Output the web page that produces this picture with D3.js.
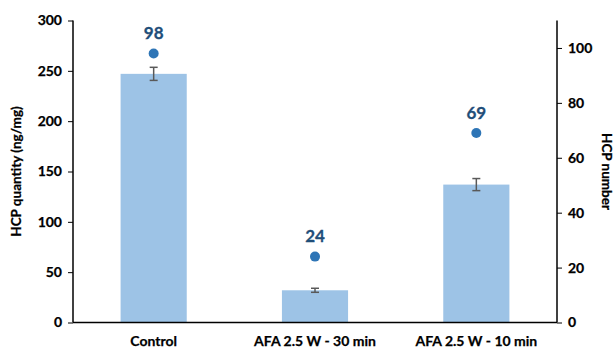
<!DOCTYPE html>
<html><head><meta charset="utf-8">
<script src="https://cdn.jsdelivr.net/npm/d3@7"></script>
<style>body{margin:0;background:#fff}svg{display:block}</style>
</head><body>
<script>
const categories = ["Control", "AFA 2.5 W - 30 min", "AFA 2.5 W - 10 min"];
const quantity = [247, 32, 137];
const quantityErr = [6.5, 2, 6];
const hcpNumber = [98, 24, 69];
const leftTicks = [0, 50, 100, 150, 200, 250, 300];
const rightTicks = [0, 20, 40, 60, 80, 100];

const W = 614, H = 352;
const m = {l: 73, r: 57, t: 20.5, b: 29.5};
const svg = d3.select("body").append("svg").attr("width", W).attr("height", H);
const font = "Lato, 'Open Sans', sans-serif";

const x = d3.scaleBand().domain(categories).range([m.l, W - m.r]).paddingInner(0.59).paddingOuter(0.295);
const y = d3.scaleLinear().domain([0, 300]).range([H - m.b, m.t]);
const y2 = d3.scaleLinear().domain([0, 110]).range([H - m.b, m.t]);

// bars
svg.selectAll("rect.bar").data(categories).join("rect")
  .attr("x", d => x(d)).attr("width", x.bandwidth())
  .attr("y", (d, i) => y(quantity[i])).attr("height", (d, i) => y(0) - y(quantity[i]))
  .attr("fill", "#9DC3E6");

// error bars
const eg = svg.append("g").attr("stroke", "#595959").attr("stroke-width", 1.5);
categories.forEach((c, i) => {
  const cx = x(c) + x.bandwidth() / 2;
  const y1 = y(quantity[i] + quantityErr[i]), y0 = y(quantity[i] - quantityErr[i]);
  eg.append("line").attr("x1", cx).attr("x2", cx).attr("y1", y1).attr("y2", y0);
  eg.append("line").attr("x1", cx - 4).attr("x2", cx + 4).attr("y1", y1).attr("y2", y1);
  eg.append("line").attr("x1", cx - 4).attr("x2", cx + 4).attr("y1", y0).attr("y2", y0);
});

// axes
const axL = svg.append("g").attr("transform", `translate(${m.l},0)`)
  .call(d3.axisLeft(y).tickValues(leftTicks).tickSize(5).tickPadding(6));
const axR = svg.append("g").attr("transform", `translate(${W - m.r},0)`)
  .call(d3.axisRight(y2).tickValues(rightTicks).tickSize(5).tickPadding(6));
const axB = svg.append("g").attr("transform", `translate(0,${H - m.b})`)
  .call(d3.axisBottom(x).tickSize(0).tickPadding(14));
[axL, axR, axB].forEach(a => {
  a.select(".domain").attr("stroke", "#000").attr("stroke-width", 1.5);
  a.selectAll(".tick line").attr("stroke", "#000").attr("stroke-width", 1);
  a.selectAll("text").attr("font-family", font).attr("font-weight", "bold")
    .attr("font-size", 14).attr("fill", "#000")
    .attr("stroke", "#000").attr("stroke-width", 0.25);
});
axL.select(".domain").attr("d", `M0,${m.t}V${H - m.b}`);
axR.select(".domain").attr("d", `M0,${m.t}V${H - m.b}`);
axB.select(".domain").attr("d", `M${m.l},0H${W - m.r}`);

// points + labels
categories.forEach((c, i) => {
  const cx = x(c) + x.bandwidth() / 2;
  svg.append("circle").attr("cx", cx).attr("cy", y2(hcpNumber[i])).attr("r", 5).attr("fill", "#2E75B6");
  svg.append("text").attr("x", cx).attr("y", y2(hcpNumber[i]) - 14.5)
    .attr("text-anchor", "middle").attr("font-family", font).attr("font-weight", "bold")
    .attr("font-size", 17).attr("fill", "#1F4E79")
    .attr("stroke", "#1F4E79").attr("stroke-width", 0.3).text(hcpNumber[i]);
});

// axis titles
svg.append("text").attr("transform", `translate(21,${(m.t + H - m.b) / 2}) rotate(-90)`)
  .attr("text-anchor", "middle").attr("font-family", font).attr("font-weight", "bold")
  .attr("font-size", 13.5).attr("stroke", "#000").attr("stroke-width", 0.25).text("HCP quantity (ng/mg)");
svg.append("text").attr("transform", `translate(602,${(m.t + H - m.b) / 2}) rotate(90)`)
  .attr("text-anchor", "middle").attr("font-family", font).attr("font-weight", "bold")
  .attr("font-size", 13.5).attr("stroke", "#000").attr("stroke-width", 0.25).text("HCP number");
</script>
</body></html>
